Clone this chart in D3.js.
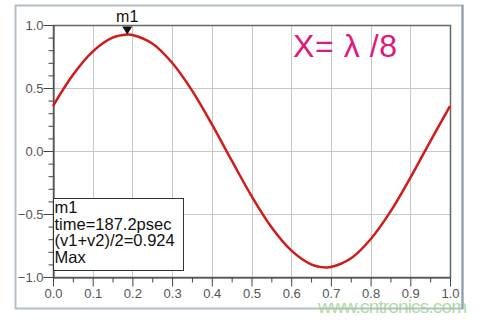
<!DOCTYPE html>
<html>
<head>
<meta charset="utf-8">
<script src="https://cdn.jsdelivr.net/npm/d3@7"></script>
<style>
  body { margin: 0; background: #fff; }
  svg { display: block; font-family: Arial, "Liberation Sans", sans-serif; }
</style>
</head>
<body>
<script>
// values
const timeVals = [0, 0.05, 0.1, 0.15, 0.187, 0.2, 0.25, 0.3, 0.35, 0.4, 0.45, 0.5,
                  0.55, 0.6, 0.65, 0.687, 0.7, 0.75, 0.8, 0.85, 0.9, 0.95, 1.0];
const voltVals = [0.357, 0.603, 0.789, 0.899, 0.924, 0.921, 0.853, 0.700, 0.481, 0.213, -0.075, -0.357,
                  -0.603, -0.789, -0.899, -0.924, -0.921, -0.853, -0.700, -0.481, -0.213, 0.075, 0.357];
const xTicks = [0, 0.1, 0.2, 0.3, 0.4, 0.5, 0.6, 0.7, 0.8, 0.9, 1.0];
const yTicks = [-1.0, -0.5, 0.0, 0.5, 1.0];
const markerX = 0.187, markerY = 0.924;
const markerLines = ['m1', 'time=187.2psec', '(v1+v2)/2=0.924', 'Max'];

const width = 488, height = 322;
const pLeft = 53, pRight = 450, pTop = 25, pBottom = 277;

const svg = d3.select('body').append('svg')
  .attr('width', width)
  .attr('height', height);

// outer frame
svg.append('rect')
  .attr('x', 15.5).attr('y', 5.5)
  .attr('width', 447).attr('height', 303)
  .attr('fill', '#fff')
  .attr('stroke', '#b4bec8')
  .attr('stroke-width', 2);
svg.append('line')
  .attr('x1', 462.5).attr('x2', 462.5).attr('y1', 5).attr('y2', 309)
  .attr('stroke', '#8e9cab').attr('stroke-width', 2);

const xScale = d3.scaleLinear().domain([0, 1]).range([pLeft, pRight]);
const yScale = d3.scaleLinear().domain([-1, 1]).range([pBottom, pTop]);

// grid
svg.append('g').selectAll('line')
  .data(xTicks.slice(1, -1))
  .enter().append('line')
  .attr('x1', d => Math.round(xScale(d)) + 0.5).attr('x2', d => Math.round(xScale(d)) + 0.5)
  .attr('y1', pTop).attr('y2', pBottom)
  .attr('stroke', '#c8c8c8');
svg.append('g').selectAll('line')
  .data(yTicks.slice(1, -1))
  .enter().append('line')
  .attr('x1', pLeft).attr('x2', pRight)
  .attr('y1', d => Math.round(yScale(d)) + 0.5).attr('y2', d => Math.round(yScale(d)) + 0.5)
  .attr('stroke', '#c8c8c8');

// plot frame
svg.append('rect')
  .attr('x', pLeft + 0.5).attr('y', pTop + 0.5)
  .attr('width', pRight - pLeft).attr('height', pBottom - pTop)
  .attr('fill', 'none')
  .attr('stroke', '#666')
  .attr('stroke-width', 1.5);

// axes
const xAxis = d3.axisBottom(xScale)
  .tickValues(d3.range(0, 1.0001, 0.05))
  .tickFormat(d => (Math.round(d * 100) % 10 === 0) ? d.toFixed(1) : '')
  .tickSizeOuter(0);
const gx = svg.append('g')
  .attr('transform', `translate(0,${pBottom + 0.5})`)
  .call(xAxis);
gx.selectAll('line').attr('stroke', '#444')
  .attr('y2', d => (Math.round(d * 100) % 10 === 0) ? 9 : 5);
gx.select('.domain').attr('stroke', '#444');
gx.selectAll('text').attr('fill', '#555').attr('font-size', 13).attr('dy', '0.9em')
  .attr('font-family', 'Arial, "Liberation Sans", sans-serif');

const yAxis = d3.axisLeft(yScale)
  .tickValues(d3.range(-1, 1.0001, 0.1))
  .tickFormat(d => (Math.abs(Math.round(d * 10)) % 5 === 0) ? d3.format('.1f')(Math.round(d * 10) / 10) : '')
  .tickSizeOuter(0);
const gy = svg.append('g')
  .attr('transform', `translate(${pLeft + 0.5},0)`)
  .call(yAxis);
gy.selectAll('line').attr('stroke', '#444')
  .attr('x2', d => (Math.abs(Math.round(d * 10)) % 5 === 0) ? -10 : -5);
gy.select('.domain').attr('stroke', '#444');
gy.selectAll('text').attr('fill', '#555').attr('font-size', 13).attr('x', -10)
  .attr('font-family', 'Arial, "Liberation Sans", sans-serif');

// curve
const pts = timeVals.map((t, i) => [t, voltVals[i]]);
svg.append('path')
  .datum(pts)
  .attr('fill', 'none')
  .attr('stroke', '#d21a1a')
  .attr('stroke-width', 2.5)
  .attr('d', d3.line()
    .x(d => xScale(d[0]))
    .y(d => yScale(d[1]))
    .curve(d3.curveCatmullRom.alpha(0.5)));

// marker
const mx = xScale(markerX), my = yScale(markerY);
svg.append('path')
  .attr('d', `M${mx - 5},${my - 8}L${mx + 5},${my - 8}L${mx},${my}Z`)
  .attr('fill', '#111');
svg.append('text')
  .attr('x', mx).attr('y', 22)
  .attr('text-anchor', 'middle')
  .attr('font-size', 16)
  .attr('fill', '#111')
  .text('m1');

// marker readout box
const box = svg.append('g').attr('transform', `translate(${pLeft + 0.5},198.5)`);
box.append('rect')
  .attr('width', 130).attr('height', 72)
  .attr('fill', '#fff')
  .attr('stroke', '#333');
box.selectAll('text')
  .data(markerLines)
  .enter().append('text')
  .attr('x', 1)
  .attr('y', (d, i) => 14.5 + i * 16.7)
  .attr('font-size', 16.5)
  .attr('fill', '#111')
  .text(d => d);

// annotation
svg.append('text')
  .attr('x', 293).attr('y', 57)
  .attr('font-size', 32)
  .attr('fill', '#e0177c')
  .attr('textLength', 104)
  .text('X= λ /8');

// watermark
svg.append('text')
  .attr('x', 318).attr('y', 313)
  .attr('font-size', 19)
  .attr('fill', '#9ccf8e')
  .attr('opacity', 0.75)
  .attr('textLength', 149)
  .text('www.cntronics.com');
</script>
</body>
</html>
